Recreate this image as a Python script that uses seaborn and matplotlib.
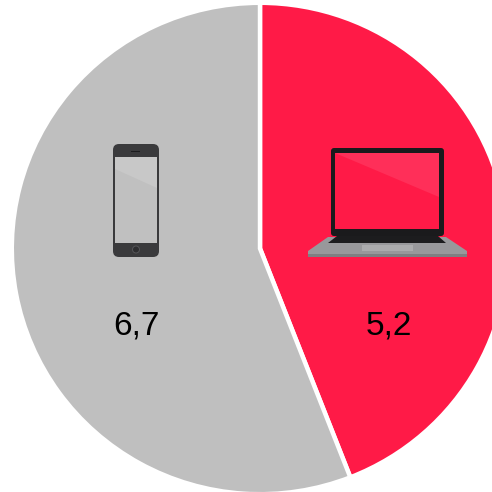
# -*- coding: utf-8 -*-
# two slice pie, phone vs laptop, icons drawn by hand
import matplotlib
matplotlib.use('Agg')
import matplotlib.pyplot as plt
from matplotlib.patches import FancyBboxPatch, Polygon, Circle, Rectangle
import seaborn as sns

# data - shares, labels are the rounded figures
categories = ['laptop', 'phone']
values = [5.24, 6.65]
value_labels = ['5,2', '6,7']
slice_colors = ['#FF1A47', '#BFBFBF']

sns.set_theme(style='white')
plt.rcParams['font.family'] = ['Liberation Sans', 'DejaVu Sans']

H = 492

# y measured from the top of the picture
def fy(y):
    return H - y

def box(ax, x0, y0, x1, y1, r, color, z=3):
    ax.add_patch(FancyBboxPatch((x0 + r, fy(y1) + r), x1 - x0 - 2*r, y1 - y0 - 2*r,
                                boxstyle='round,pad=%f,rounding_size=%f' % (r, r),
                                fc=color, ec='none', zorder=z))

def poly(ax, pts, color, z=3):
    ax.add_patch(Polygon([(x, fy(y)) for x, y in pts], closed=True, fc=color, ec='none', zorder=z))

fig = plt.figure(figsize=(4.92, 4.92), dpi=100)

# pie runs a little past the right edge and is slightly wider than tall,
# axes grown by half the white edge width since that eats into the rim
ax_pie = fig.add_axes([11.8/H, -2.2/H, 496.4/H, 491.4/H])
ax_pie.pie(values, colors=slice_colors, startangle=90, counterclock=False, radius=1,
           wedgeprops=dict(edgecolor='white', linewidth=3.2))
ax_pie.set_xlim(-1, 1)
ax_pie.set_ylim(-1, 1)
ax_pie.set_aspect('auto')
ax_pie.axis('off')

# overlay in picture pixels for the labels and icons
ax = fig.add_axes([0, 0, 1, 1])
ax.set_xlim(0, H)
ax.set_ylim(0, H)
ax.patch.set_alpha(0)
ax.axis('off')

# value labels
ax.text(389, fy(326), value_labels[0], ha='center', va='center', fontsize=24, color='black')
ax.text(136, fy(326), value_labels[1], ha='center', va='center', fontsize=24, color='black')

# phone
box(ax, 113, 144, 159, 257, 6, '#3A3A3C')
ax.add_patch(Rectangle((115, fy(243)), 42, 86, fc='#C0C0C0', ec='none', zorder=4))
poly(ax, [(115, 157), (157, 157), (157, 188), (115, 169)], '#C8C8C8', z=5)
ax.add_patch(Circle((136, fy(249.5)), 3.5, fc='#2E2E30', ec='#555558', lw=0.7, zorder=4))
ax.add_patch(Rectangle((131, fy(152)), 9, 1, fc='#1C1C1E', ec='none', zorder=4))

# laptop
box(ax, 331, 148, 444, 236, 3, '#1A1A1C')
ax.add_patch(Rectangle((335, fy(229)), 104, 76, fc='#FF1A47', ec='none', zorder=4))
poly(ax, [(335, 153), (439, 153), (439, 197)], '#FF2F59', z=5)
poly(ax, [(328, 237), (446, 237), (467, 251), (467, 257), (308, 257), (308, 251)], '#98989B')
poly(ax, [(337, 236), (438, 236), (446, 243), (328, 243)], '#1C1C1E', z=4)
poly(ax, [(362, 245), (413, 245), (413, 251), (362, 251)], '#ABABAD', z=4)
poly(ax, [(308, 254), (467, 254), (467, 257), (308, 257)], '#7F7F82', z=4)

fig.savefig('out.png', dpi=100)
